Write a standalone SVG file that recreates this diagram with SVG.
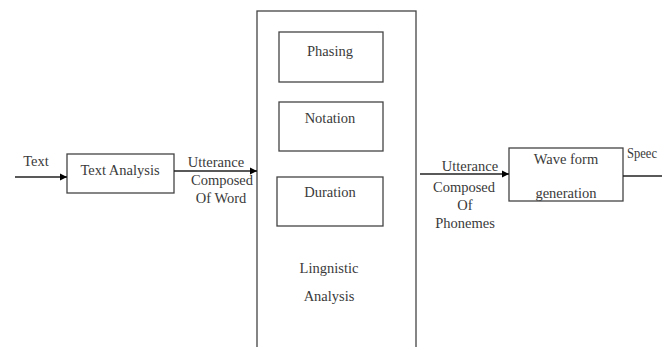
<svg xmlns="http://www.w3.org/2000/svg" width="662" height="347" viewBox="0 0 662 347">
<defs>
<marker id="ah" markerWidth="8" markerHeight="8" refX="7" refY="4" orient="auto" markerUnits="userSpaceOnUse">
<path d="M0,0.5 L7,4 L0,7.5 Z" fill="#000"/>
</marker>
</defs>
<style>
.box{fill:#fff;stroke:#444;stroke-width:1.3}
.t{font-family:"Liberation Serif","Times New Roman",serif;font-size:14.5px;fill:#3a3a3a;text-anchor:middle}
.ln{stroke:#222;stroke-width:1.3;fill:none}
</style>
<rect width="662" height="347" fill="#fff"/>
<g id="linguistic">
<rect class="box" x="257" y="11" width="159" height="345"/>
<text class="t" x="329" y="273">Lingnistic</text>
<text class="t" x="329" y="301">Analysis</text>
</g>
<g id="text-analysis">
<rect class="box" x="67" y="154" width="107" height="39"/>
<text class="t" x="120" y="175">Text Analysis</text>
</g>
<g id="phasing">
<rect class="box" x="279" y="32" width="104" height="50"/>
<text class="t" x="330" y="56">Phasing</text>
</g>
<g id="notation">
<rect class="box" x="279" y="102" width="104" height="49"/>
<text class="t" x="330" y="123">Notation</text>
</g>
<g id="duration">
<rect class="box" x="277" y="177" width="106" height="49"/>
<text class="t" x="330" y="197">Duration</text>
</g>
<g id="waveform">
<rect class="box" x="509" y="148" width="114" height="53"/>
<text class="t" x="566" y="164">Wave form</text>
<text class="t" x="566" y="198">generation</text>
</g>
<g id="connectors">
<line class="ln" x1="15" y1="177" x2="67" y2="177" marker-end="url(#ah)"/>
<line class="ln" x1="174" y1="171" x2="257" y2="171" marker-end="url(#ah)"/>
<line class="ln" x1="420" y1="174" x2="509" y2="174" marker-end="url(#ah)"/>
<line class="ln" x1="623" y1="176" x2="662" y2="176"/>
<text class="t" x="36" y="166">Text</text>
<text class="t" x="216" y="167">Utterance</text>
<text class="t" x="222" y="185">Composed</text>
<text class="t" x="221" y="203">Of Word</text>
<text class="t" x="470" y="171">Utterance</text>
<text class="t" x="464" y="192">Composed</text>
<text class="t" x="465" y="210">Of</text>
<text class="t" x="465" y="228">Phonemes</text>
<text class="t" x="627" y="158" style="text-anchor:start" textLength="30" lengthAdjust="spacingAndGlyphs">Speec</text>
</g>
</svg>
